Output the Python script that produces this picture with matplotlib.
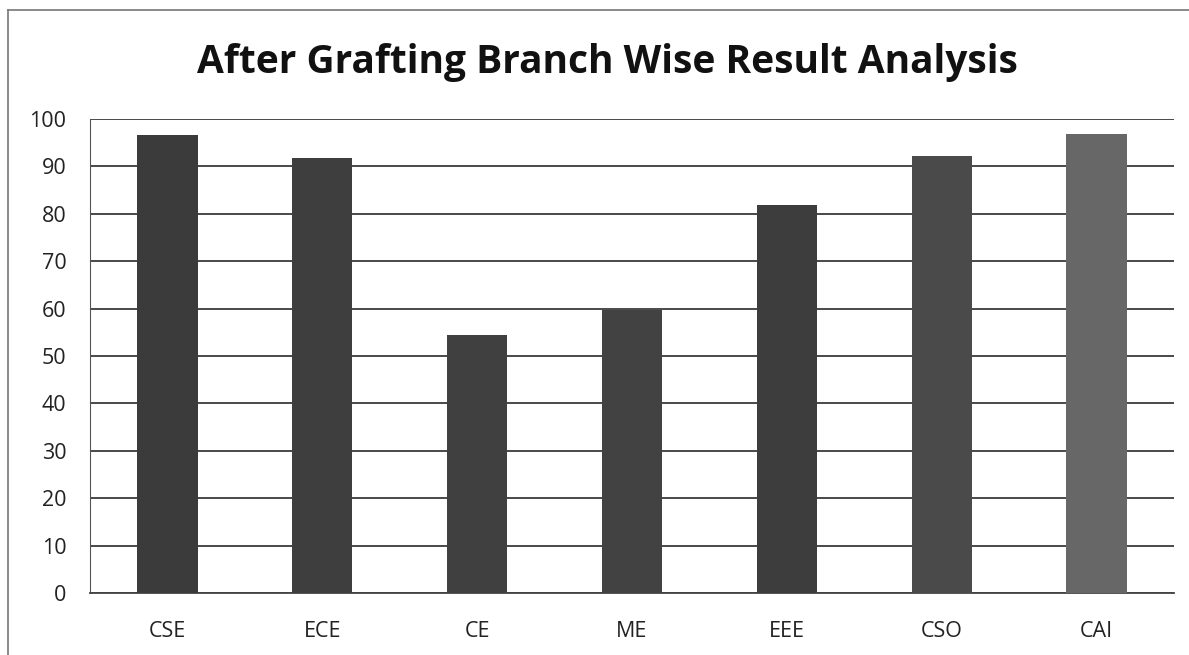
import matplotlib.pyplot as plt
from matplotlib.lines import Line2D

branches = ['CSE', 'ECE', 'CE', 'ME', 'EEE', 'CSO', 'CAI']
result = [96.6, 91.8, 54.5, 59.8, 81.9, 92.3, 96.8]
yticks = [0, 10, 20, 30, 40, 50, 60, 70, 80, 90, 100]

bar_colors = ['#3b3b3b', '#3e3e3e', '#404040', '#424242', '#3d3d3d', '#4a4a4a', '#676767']

plt.rcParams['font.family'] = ['Open Sans', 'DejaVu Sans']

fig = plt.figure(figsize=(11.89, 6.55), dpi=100)
ax = fig.add_axes([0.0757, 0.0947, 0.9117, 0.7236])

# bars
ax.bar(range(len(branches)), result, width=0.39, color=bar_colors, zorder=3)
ax.set_xlim(-0.5, len(branches) - 0.5)
ax.set_ylim(0, 100)
ax.set_yticks(yticks)
ax.set_xticks(range(len(branches)))
ax.set_xticklabels(branches)
ax.yaxis.grid(True, color='#3a3a3a', linewidth=1.3, zorder=1)
ax.tick_params(axis='both', length=0, labelsize=15.5, colors='#222222')
ax.tick_params(axis='x', pad=20)
ax.tick_params(axis='y', pad=17)
for s in ['top', 'right']:
    ax.spines[s].set_visible(False)
ax.spines['left'].set_color('#555555')
ax.spines['bottom'].set_color('#444444')
ax.spines['bottom'].set_linewidth(1.3)

fig.text(0.5105, 0.905, 'After Grafting Branch Wise Result Analysis', ha='center', va='center',
         fontsize=28, fontweight='bold', color='#111111')

# chart border (top + left, as in the scan)
fig.add_artist(Line2D([0.0067, 1.0], [0.985, 0.985], color='#777777', linewidth=1.2))
fig.add_artist(Line2D([0.0067, 0.0067], [0.0, 0.985], color='#777777', linewidth=1.2))

fig.savefig('out.png', dpi=100)
